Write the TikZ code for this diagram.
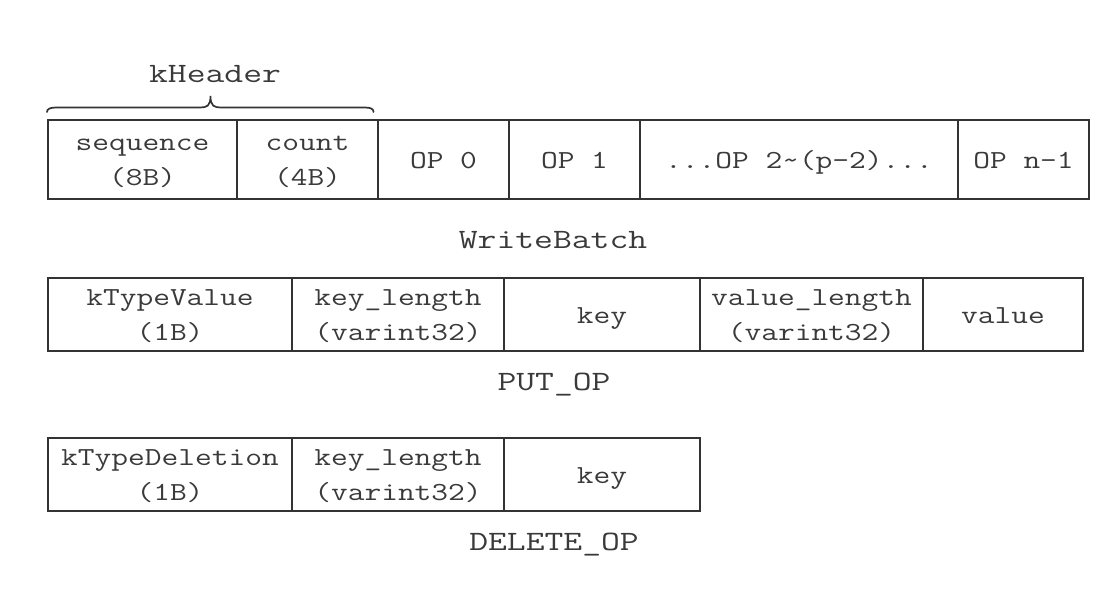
\documentclass[tikz,border=0pt]{standalone}
\usepackage{fontspec}
\setmainfont{Latin Modern Mono}[FakeStretch=1.25]
\newfontfamily\lblfont{Latin Modern Mono}[FakeStretch=1.306]
\definecolor{ln}{HTML}{333333}
\definecolor{tx}{HTML}{3A3A3A}
\newcommand\mkcell[6]{%
  \node[cellbox, minimum width={(#3-#2)*1pt}, minimum height={(#5-#4)*1pt}] (#1) at ({(#2+#3)/2},{(#4+#5)/2})
  {\raisebox{-1.5pt}[\height][\depth]{\begin{tabular}{@{}c@{}}#6\end{tabular}}};}
\begin{document}
\begin{tikzpicture}[x=1pt,y=-1pt,
  cellbox/.style={draw=ln, line width=2pt, inner sep=0pt, text=tx,
    font=\fontsize{26}{35}\selectfont},
  lbl/.style={text=tx, inner sep=0pt, anchor=base, font=\lblfont\fontsize{28}{35}\selectfont}]
\useasboundingbox (0,0) rectangle (1119,598);
% WriteBatch
\mkcell{seq}{48}{237}{120}{199}{sequence\\(8B)}
\mkcell{cnt}{237}{378}{120}{199}{count\\(4B)}
\mkcell{op0}{378}{509}{120}{199}{OP 0}
\mkcell{op1}{509}{640}{120}{199}{OP 1}
\mkcell{opm}{640}{958}{120}{199}{...OP 2\char`~(p-2)...}
\mkcell{opn}{958}{1089}{120}{199}{OP n-1}
\draw[ln, line width=1.7pt, line cap=round]
  (47,112) .. controls (47,109) and (50,107.5) .. (56,107.5) -- (200,107.5)
  .. controls (207,107.5) and (210.5,106) .. (210.5,96)
  .. controls (210.5,106) and (214,107.5) .. (221,107.5) -- (365,107.5)
  .. controls (371,107.5) and (373.5,109) .. (373.5,112);
\node[lbl] (kh) at (215,82) {kHeader};
\node[lbl] (wb) at (553,248) {WriteBatch};
% PUT_OP
\mkcell{ktv}{48}{292}{278}{351}{kTypeValue\\(1B)}
\mkcell{kl1}{292}{504}{278}{351}{key\_length\\(varint32)}
\mkcell{k1}{504}{700}{278}{351}{key}
\mkcell{vl}{700}{923}{278}{351}{value\_length\\(varint32)}
\mkcell{v}{923}{1083}{278}{351}{value}
\node[lbl] (put) at (554,390) {PUT\_OP};
% DELETE_OP
\mkcell{ktd}{48}{292}{438}{511}{kTypeDeletion\\(1B)}
\mkcell{kl2}{292}{504}{438}{511}{key\_length\\(varint32)}
\mkcell{k2}{504}{700}{438}{511}{key}
\node[lbl] (del) at (554,550) {DELETE\_OP};
\end{tikzpicture}
\end{document}
